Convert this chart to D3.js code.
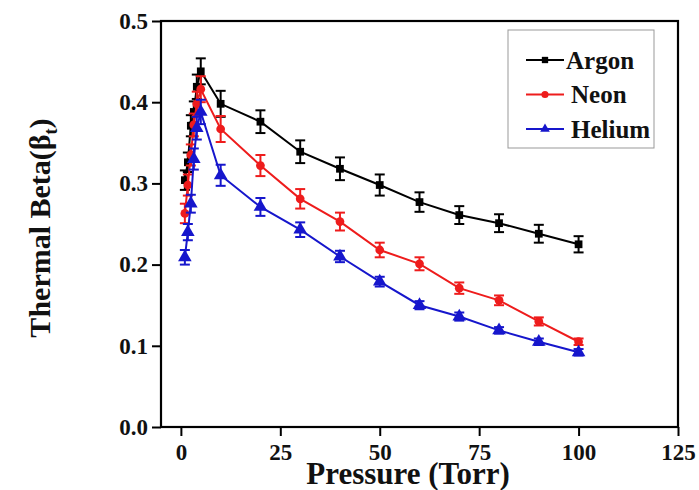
<!DOCTYPE html>
<html><head><meta charset="utf-8">
<script src="https://cdn.jsdelivr.net/npm/d3@7"></script>
<style>body{margin:0;background:#fff}svg{display:block}</style>
</head><body><svg id="c" width="699" height="490"></svg>
<script>
const pressure = [1, 1.75, 2.5, 3.25, 4, 5, 10, 20, 30, 40, 50, 60, 70, 80, 90, 100];
const argon = [0.304, 0.326, 0.371, 0.388, 0.419, 0.438, 0.398, 0.376, 0.339, 0.318, 0.298, 0.277, 0.261, 0.251, 0.238, 0.225];
const argonErr = [0.012, 0.012, 0.013, 0.013, 0.015, 0.016, 0.016, 0.014, 0.014, 0.014, 0.013, 0.012, 0.011, 0.011, 0.011, 0.010];
const neon = [0.263, 0.298, 0.335, 0.372, 0.398, 0.416, 0.367, 0.322, 0.281, 0.253, 0.218, 0.201, 0.171, 0.156, 0.130, 0.105];
const neonErr = [0.012, 0.013, 0.013, 0.014, 0.015, 0.016, 0.016, 0.013, 0.012, 0.011, 0.009, 0.008, 0.007, 0.006, 0.005, 0.004];
const helium = [0.209, 0.240, 0.275, 0.330, 0.368, 0.388, 0.310, 0.271, 0.243, 0.210, 0.179, 0.150, 0.136, 0.119, 0.105, 0.092];
const heliumErr = [0.009, 0.010, 0.011, 0.013, 0.014, 0.015, 0.013, 0.011, 0.009, 0.007, 0.006, 0.005, 0.005, 0.004, 0.004, 0.004];
const xTicks = [0, 25, 50, 75, 100, 125];
const yTicks = [0.0, 0.1, 0.2, 0.3, 0.4, 0.5];
const seriesNames = ["Argon", "Neon", "Helium"];

const colors = {Argon: "#000000", Neon: "#ee1c1c", Helium: "#1616cc"};
const symbols = {Argon: d3.symbolSquare, Neon: d3.symbolCircle, Helium: d3.symbolTriangle};
const series = [
  {name: "Argon", vals: argon, err: argonErr},
  {name: "Neon", vals: neon, err: neonErr},
  {name: "Helium", vals: helium, err: heliumErr}
];

const svg = d3.select("#c");
const L = 161, R = 678, T = 21, B = 427;
const x = d3.scaleLinear().domain([-5, 125]).range([L, R]);
const y = d3.scaleLinear().domain([0, 0.5]).range([B, T]);
const font = "'Liberation Serif','Times New Roman',serif";

// axes
const xa = svg.append("g").attr("transform", `translate(0,${B})`)
  .call(d3.axisBottom(x).tickValues(xTicks).tickSize(9).tickSizeOuter(0).tickFormat(d3.format("d")));
const ya = svg.append("g").attr("transform", `translate(${L},0)`)
  .call(d3.axisLeft(y).tickValues(yTicks).tickSize(9).tickSizeOuter(0).tickFormat(d3.format(".1f")));
[xa, ya].forEach(a => {
  a.select(".domain").remove();
  a.selectAll("line").attr("stroke", "#000").attr("stroke-width", 2);
  a.selectAll("text").attr("font-family", font).attr("font-weight", "bold")
    .attr("font-size", 23).attr("fill", "#111");
});
xa.selectAll("text").attr("dy", "0.9em");
ya.selectAll("text").attr("dx", "-1px");

// frame
svg.append("rect").attr("x", L).attr("y", T).attr("width", R - L).attr("height", B - T)
  .attr("fill", "none").attr("stroke", "#000").attr("stroke-width", 2.2);

// series
const line = d3.line().x(d => x(d[0])).y(d => y(d[1]));
series.forEach(s => {
  const c = colors[s.name];
  const pts = pressure.map((p, i) => [p, s.vals[i], s.err[i]]);
  const g = svg.append("g");
  g.append("path").datum(pts).attr("d", line).attr("fill", "none")
    .attr("stroke", c).attr("stroke-width", 2);
  const eb = g.selectAll(".eb").data(pts).enter().append("g");
  eb.append("line").attr("x1", d => x(d[0])).attr("x2", d => x(d[0]))
    .attr("y1", d => y(d[1] - d[2])).attr("y2", d => y(d[1] + d[2]))
    .attr("stroke", c).attr("stroke-width", 2);
  [-1, 1].forEach(sg => {
    eb.append("line").attr("x1", d => x(d[0]) - 5).attr("x2", d => x(d[0]) + 5)
      .attr("y1", d => y(d[1] + sg * d[2])).attr("y2", d => y(d[1] + sg * d[2]))
      .attr("stroke", c).attr("stroke-width", 2);
  });
  const sym = d3.symbol().type(symbols[s.name]).size(s.name === "Helium" ? 80 : 60);
  g.selectAll(".m").data(pts).enter().append("path")
    .attr("d", sym).attr("transform", d => `translate(${x(d[0])},${y(d[1])})`)
    .attr("fill", c);
});

// legend
const lg = svg.append("g");
lg.append("rect").attr("x", 508).attr("y", 30).attr("width", 146).attr("height", 118)
  .attr("fill", "#fff").attr("stroke", "#999").attr("stroke-width", 1);
const ly = d3.scalePoint().domain(seriesNames).range([60, 129]);
seriesNames.forEach(n => {
  const c = colors[n], yy = ly(n);
  lg.append("line").attr("x1", 526).attr("x2", 564).attr("y1", yy).attr("y2", yy)
    .attr("stroke", c).attr("stroke-width", 2);
  lg.append("path").attr("d", d3.symbol().type(symbols[n]).size(40)())
    .attr("transform", `translate(545,${yy})`).attr("fill", c);
  lg.append("text").attr("x", n === "Argon" ? 566 : 571).attr("y", yy).attr("dy", "0.35em")
    .attr("font-family", font).attr("font-weight", "bold").attr("font-size", 25)
    .attr("fill", "#111").text(n);
});

// axis titles
svg.append("text").attr("x", 408).attr("y", 484).attr("text-anchor", "middle")
  .attr("font-family", font).attr("font-weight", "bold").attr("font-size", 31)
  .attr("fill", "#111").text("Pressure (Torr)");
const yt = svg.append("text").attr("transform", "translate(50,228) rotate(-90)")
  .attr("text-anchor", "middle").attr("font-family", font).attr("font-weight", "bold")
  .attr("font-size", 30).attr("fill", "#111");
yt.append("tspan").text("Thermal Beta(β");
yt.append("tspan").attr("font-size", 18).attr("dy", 7).text("t");
yt.append("tspan").attr("dy", -7).text(")");
</script></body></html>
